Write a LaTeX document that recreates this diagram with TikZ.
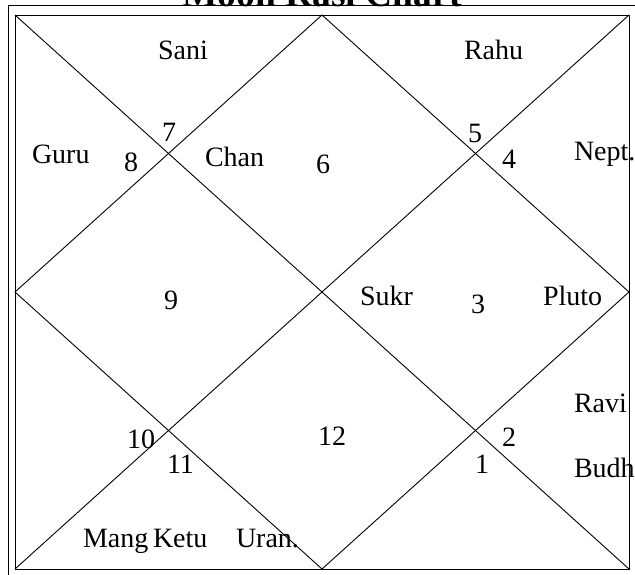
\documentclass[tikz,border=0pt]{standalone}
\usepackage{fontspec}
\setmainfont{Liberation Serif}
\begin{document}
\begin{tikzpicture}[x=1pt,y=-1pt,
  frame/.style={line width=0.9pt,black},
  lbl/.style={anchor=base west,inner sep=0pt,outer sep=0pt,font=\fontsize{28}{30}\selectfont},
  ttl/.style={anchor=base,inner sep=0pt,outer sep=0pt,font=\fontsize{37.5}{40}\selectfont\bfseries}]
\useasboundingbox (0,0) rectangle (635,574);
\clip (0,0) rectangle (635,574);
% title
\node[ttl] (title) at (322,6.5) {Moon Rasi Chart};
% frames
\draw[frame] (8,5.5) rectangle (660,600);
\coordinate (tl) at (15,15);
\coordinate (tr) at (629,15);
\coordinate (br) at (629,569);
\coordinate (bl) at (15,569);
\coordinate (tm) at (322,15);
\coordinate (rm) at (629,292);
\coordinate (bm) at (322,569);
\coordinate (lm) at (15,292);
\draw[frame] (tl) -- (tr) -- (br) -- (bl) -- cycle;
\draw[frame] (tl) -- (br);
\draw[frame] (tr) -- (bl);
\draw[frame] (tm) -- (rm) -- (bm) -- (lm) -- cycle;
% planets
\node[lbl] (sani) at (158,59) {Sani};
\node[lbl] (rahu) at (464,59) {Rahu};
\node[lbl] (guru) at (32,163) {Guru};
\node[lbl] (chan) at (205,166) {Chan};
\node[lbl] (nept) at (574,160) {Nept.};
\node[lbl] (sukr) at (360,305) {Sukr};
\node[lbl] (pluto) at (543,305) {Pluto};
\node[lbl] (ravi) at (574,412) {Ravi};
\node[lbl] (budh) at (574,477) {Budh};
\node[lbl] (mang) at (83,547) {Mang};
\node[lbl] (ketu) at (153,547) {Ketu};
\node[lbl] (uran) at (236,547) {Uran.};
% house numbers
\node[lbl] (h7) at (162,141) {7};
\node[lbl] (h8) at (124,171) {8};
\node[lbl] (h6) at (316,173) {6};
\node[lbl] (h5) at (468,142) {5};
\node[lbl] (h4) at (502,168) {4};
\node[lbl] (h9) at (164,309) {9};
\node[lbl] (h3) at (471,313) {3};
\node[lbl] (h12) at (318,445) {12};
\node[lbl] (h10) at (127,448) {10};
\node[lbl] (h11) at (167,473) {11};
\node[lbl] (h2) at (502,446) {2};
\node[lbl] (h1) at (475,473) {1};
\end{tikzpicture}
\end{document}
